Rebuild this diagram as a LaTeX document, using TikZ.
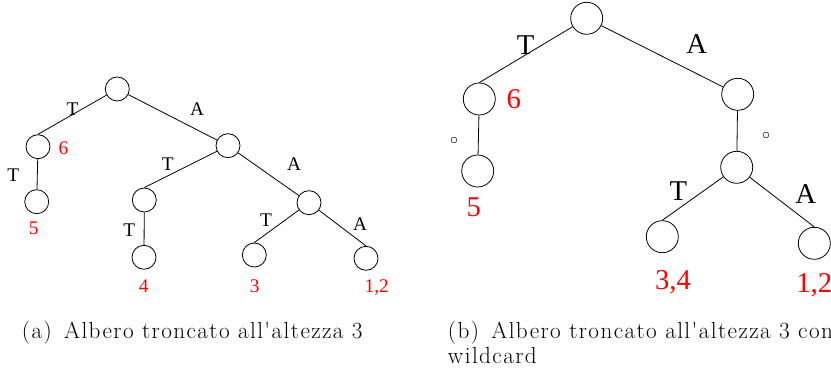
\documentclass[tikz,border=0pt]{standalone}
\usepackage{fontspec}
\setmainfont{Latin Modern Roman}
\newfontfamily\tfont{Liberation Serif}
\newfontfamily\capfont[LetterSpace=6]{Latin Modern Roman}
\begin{document}
\begin{tikzpicture}[x=0.75pt,y=-0.75pt,
  sn/.style={circle,draw,line width=0.6pt,minimum size=18pt,inner sep=0pt},
  bn/.style={circle,draw,line width=0.6pt,minimum size=24pt,inner sep=0pt},
  conn/.style={line width=0.6pt},
  sl/.style={inner sep=0pt,anchor=base,font=\tfont\fontsize{14.5}{14.5}\selectfont},
  sr/.style={sl,text=red},
  bl/.style={inner sep=0pt,anchor=base,font=\tfont\fontsize{21.5}{21.5}\selectfont},
  br/.style={bl,text=red},
  wc/.style={inner sep=0pt,font=\fontsize{12.5}{12.5}\selectfont},
  captxt/.style={inner sep=0pt,anchor=base west,font=\capfont\fontsize{17.4}{17.4}\selectfont}]
\useasboundingbox (0,0) rectangle (831,374);
% ---- left tree
\node[sn] (r) at (117.3,89) {};
\node[sn] (n6) at (38,146.7) {};
\node[sn] (n5) at (36.7,201.7) {};
\node[sn] (a1) at (228,145.7) {};
\node[sn] (t2) at (144.3,200) {};
\node[sn] (n4) at (144,257.3) {};
\node[sn] (a2) at (309,202.7) {};
\node[sn] (n3) at (254.3,255) {};
\node[sn] (n12) at (366,258.3) {};
\draw[conn] (r) -- (n6.north);
\draw[conn] (n6) -- (n5);
\draw[conn] (r) -- (a1);
\draw[conn] (a1) -- (t2.north);
\draw[conn] (t2) -- (n4);
\draw[conn] (a1) -- (a2);
\draw[conn] (a2) -- (n3.north);
\draw[conn] (a2) -- (n12.north);
\node[sl] (l1) at (72.5,115.7) {T};
\node[sl] (l2) at (197,116) {A};
\node[sr] (l3) at (63.5,155) {6};
\node[sl] (l4) at (13.3,181) {T};
\node[sr] (l5) at (33.8,234.3) {5};
\node[sl] (l6) at (167.8,170.7) {T};
\node[sl] (l7) at (294.2,170.7) {A};
\node[sl] (l8) at (129.2,236) {T};
\node[sr] (l9) at (143.8,292.7) {4};
\node[sl] (l10) at (266,226.7) {T};
\node[sl] (l11) at (360,230) {A};
\node[sr] (l12) at (254.7,292.7) {3};
\node[sr] (l13) at (376.7,292.7) {1,2};
% ---- right tree
\node[bn] (R) at (586.7,18.3) {};
\node[bn] (N6) at (479.3,99) {};
\node[bn] (N5) at (477.7,171) {};
\node[bn] (A1) at (737.7,94.3) {};
\node[bn] (W) at (736.7,167.3) {};
\node[bn] (N34) at (662.3,236.7) {};
\node[bn] (N12) at (814.3,243.3) {};
\draw[conn] (R) -- (N6.north);
\draw[conn] (N6) -- (N5);
\draw[conn] (R) -- (A1);
\draw[conn] (A1) -- (W);
\draw[conn] (W) -- (N34.north);
\draw[conn] (W) -- (N12.north);
\node[bl] (L1) at (525.7,55) {T};
\node[bl] (L2) at (696.7,54) {A};
\node[br] (L3) at (513.7,108.3) {6};
\node[wc] (L4) at (454,140.7) {$\circ$};
\node[br] (L5) at (473.7,216.7) {5};
\node[wc] (L6) at (766,136) {$\circ$};
\node[bl] (L7) at (678.3,200) {T};
\node[bl] (L8) at (805.8,204) {A};
\node[br] (L9) at (673,289) {3,4};
\node[br] (L10) at (814.3,292.7) {1,2};
% ---- captions
\node[captxt] (ca) at (21.7,338) {(a)\, Albero troncato all'altezza 3};
\node[captxt] (cb) at (447.7,338) {(b)\, Albero troncato all'altezza 3 con};
\node[captxt] (cb2) at (447.7,363) {wildcard};
\end{tikzpicture}
\end{document}
